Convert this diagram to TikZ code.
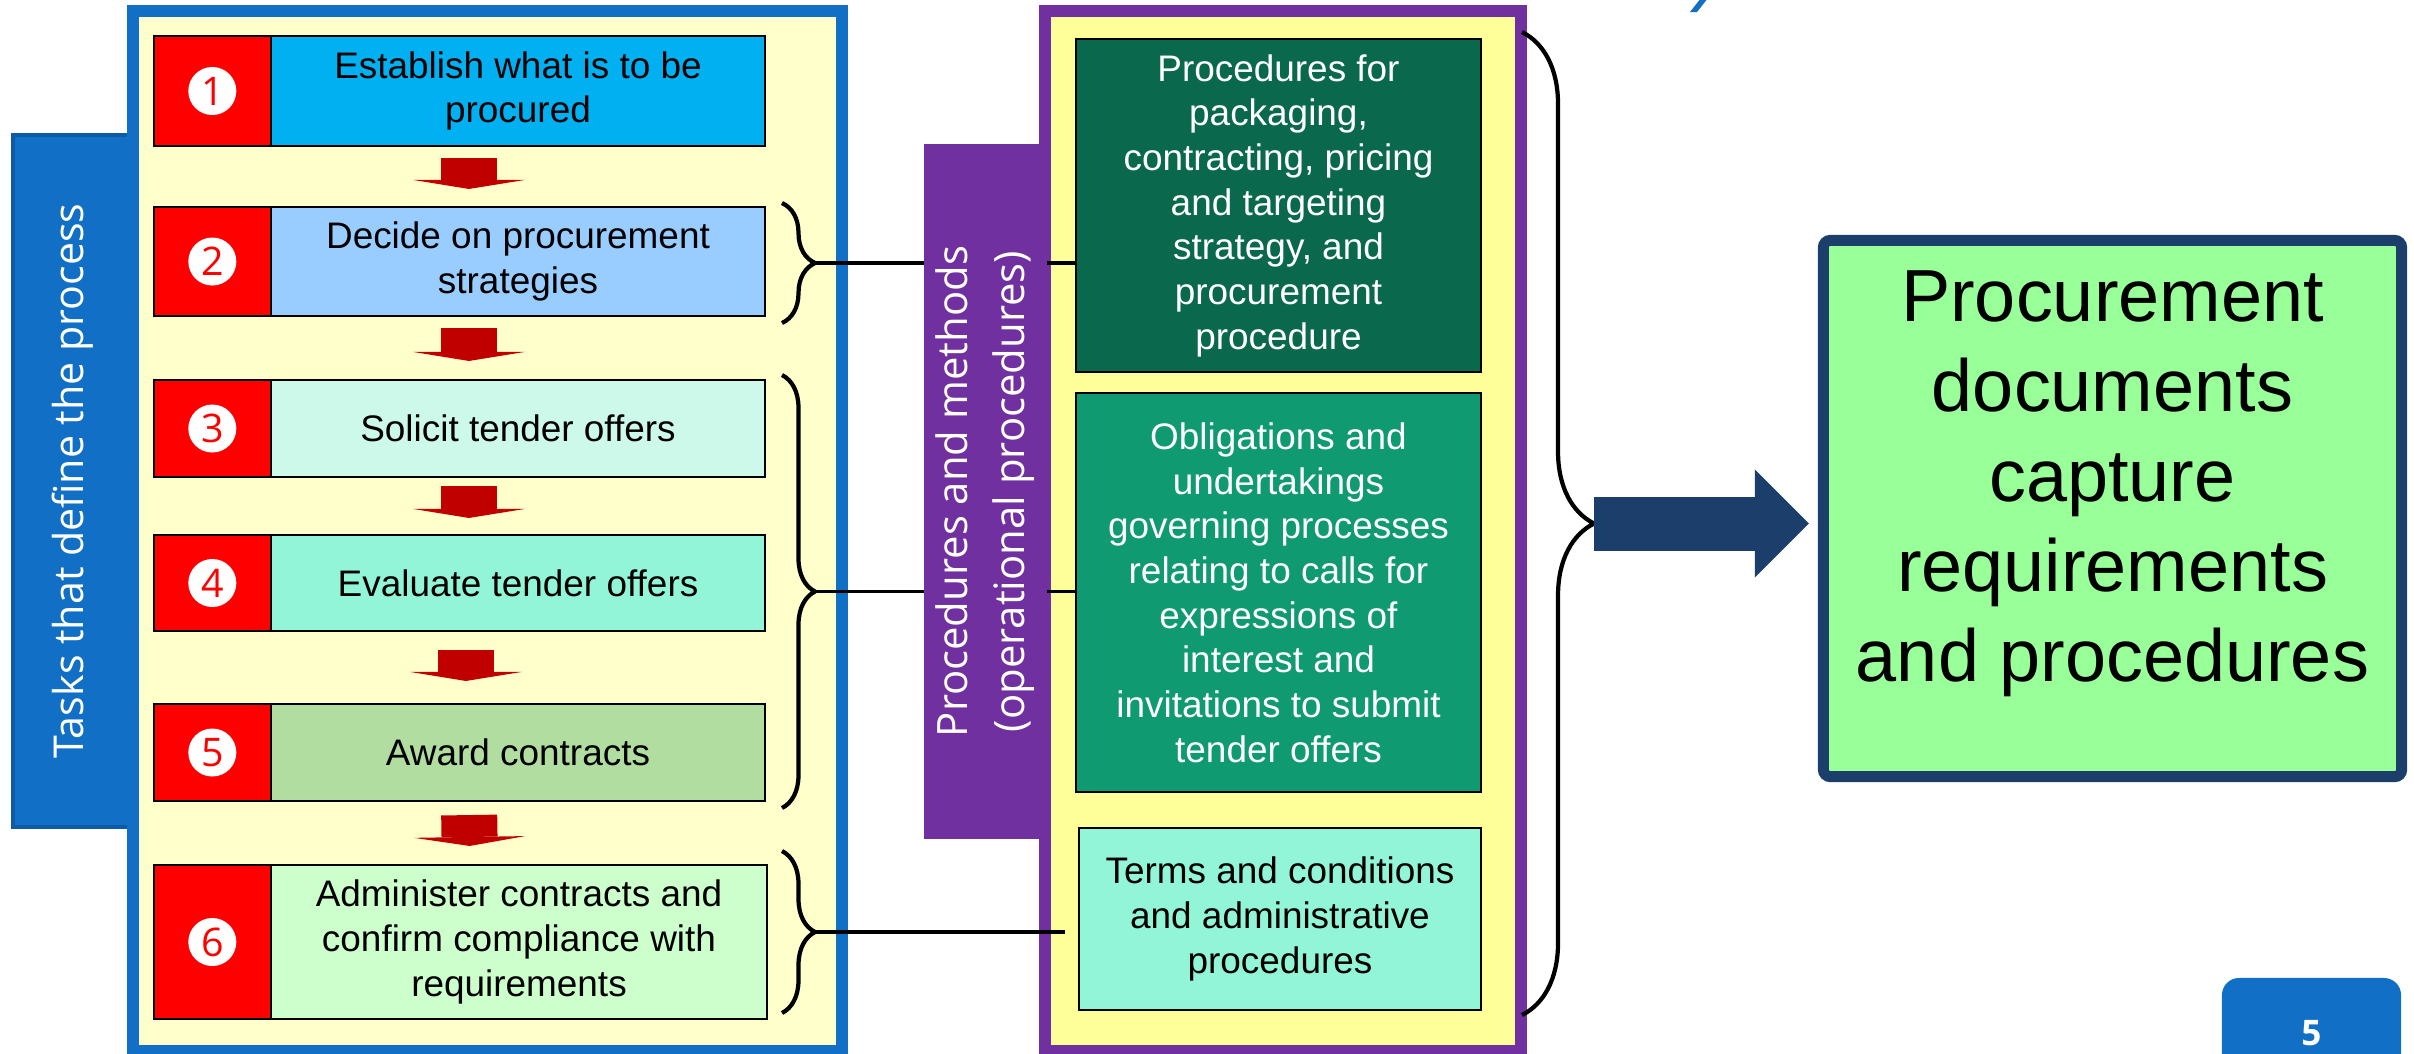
\documentclass[tikz,border=0pt]{standalone}
\usepackage{fontspec}
\setmainfont{Liberation Sans}
\newfontfamily\tabfont{Open Sans}
\usetikzlibrary{arrows.meta,decorations.pathreplacing}

\definecolor{frameblue}{RGB}{17,112,198}
\definecolor{tabedge}{RGB}{13,90,167}
\definecolor{paleyel}{RGB}{255,255,204}
\definecolor{procyel}{RGB}{255,255,153}
\definecolor{procpurple}{RGB}{112,48,160}
\definecolor{arrowred}{RGB}{192,0,0}
\definecolor{navy}{RGB}{27,63,106}
\definecolor{stepa}{RGB}{0,176,240}
\definecolor{stepb}{RGB}{153,204,255}
\definecolor{stepc}{RGB}{204,249,234}
\definecolor{stepd}{RGB}{146,245,215}
\definecolor{stepe}{RGB}{177,221,160}
\definecolor{stepf}{RGB}{204,255,204}
\definecolor{darkgr}{RGB}{10,105,76}
\definecolor{midgr}{RGB}{16,154,114}
\definecolor{docgreen}{RGB}{153,255,153}

\tikzset{
  stepbox/.style={draw, line width=0.7pt, outer sep=0pt, minimum width=4.94cm, align=center,
    inner sep=1pt, font=\fontsize{10.5}{12.7}\selectfont},
  numbox/.style={draw, line width=0.7pt, outer sep=0pt, fill=red, minimum width=1.17cm, anchor=east},
  numdot/.style={circle, fill=white, minimum size=0.48cm, inner sep=0pt, text=red,
    font=\tabfont\fontsize{11.2}{12}\selectfont},
  flowarrow/.style={arrowred, line width=0.56cm, -{Triangle[length=0.09cm, width=1.11cm, line width=0pt]}},
  procbox/.style={draw, line width=0.7pt, minimum width=4.05cm, align=center, inner sep=1pt,
    font=\fontsize{10.5}{12.7}\selectfont},
  sidetab/.style={rotate=90, minimum height=1.19cm, align=center, text=white,
    font=\tabfont\fontsize{11.9}{16.2}\selectfont},
  curly/.style={decorate, decoration={brace, amplitude=#1}, line width=1.2pt},
  curly/.default=0.33cm,
  link/.style={line width=0.9pt},
  bigarrow/.style={navy, line width=0.54cm, -{Triangle[length=0.54cm, width=1.08cm, line width=0pt]}},
  docbox/.style={draw=navy, line width=3.1pt, fill=docgreen, minimum width=5.78cm,
    minimum height=5.36cm, rounded corners=2pt},
  doctext/.style={align=center, inner sep=0pt, font=\fontsize{21}{25.6}\selectfont},
  pagebox/.style={fill=frameblue, rounded corners=0.17cm, minimum width=1.79cm, minimum height=1.10cm,
    text=white, font=\tabfont\bfseries\fontsize{10}{12}\selectfont}
}

\begin{document}
\begin{tikzpicture}[x=0.01cm, y=-0.01cm]
    \useasboundingbox (0,0) rectangle (2414,1053);

    \node[sidetab, fill=frameblue, draw=tabedge, line width=1pt, minimum width=6.92cm,
        minimum height=1.20cm, font=\tabfont\fontsize{11.7}{14}\selectfont]
        (tasks) at (73,481) {Tasks that define the process};
    \draw[frameblue, line width=3.4pt, fill=paleyel] (133,11) rectangle (842,1051);
    \draw[procpurple, line width=3.4pt, fill=procyel] (1045,11) rectangle (1521,1051);

    \node[stepbox, fill=stepa, minimum height=1.10cm] (s1) at (518,91) {Establish what is to be\\procured};
    \node[stepbox, fill=stepb, minimum height=1.09cm] (s2) at (518,261.5) {Decide on procurement\\strategies};
    \node[stepbox, fill=stepc, minimum height=0.97cm] (s3) at (518,428.5) {Solicit tender offers};
    \node[stepbox, fill=stepd, minimum height=0.96cm] (s4) at (518,583) {Evaluate tender offers};
    \node[stepbox, fill=stepe, minimum height=0.97cm] (s5) at (518,752.5) {Award contracts};
    \node[stepbox, fill=stepf, minimum height=1.54cm, minimum width=4.96cm] (s6) at (519,942)
        {Administer contracts and\\confirm compliance with\\requirements};

    \node[numbox, minimum height=1.10cm] (n1) at (s1.west) {};
    \node[numbox, minimum height=1.09cm] (n2) at (s2.west) {};
    \node[numbox, minimum height=0.97cm] (n3) at (s3.west) {};
    \node[numbox, minimum height=0.96cm] (n4) at (s4.west) {};
    \node[numbox, minimum height=0.97cm] (n5) at (s5.west) {};
    \node[numbox, minimum height=1.54cm] (n6) at (s6.west) {};
    \node[numdot] (d1) at (n1) {1};
    \node[numdot] (d2) at (n2) {2};
    \node[numdot] (d3) at (n3) {3};
    \node[numdot] (d4) at (n4) {4};
    \node[numdot] (d5) at (n5) {5};
    \node[numdot] (d6) at (n6) {6};

    \draw[flowarrow, shorten <=0.12cm, shorten >=0.18cm] ([xshift=-0.49cm]s1.south) -- ([xshift=-0.49cm]s2.north);
    \draw[flowarrow, shorten <=0.12cm, shorten >=0.19cm] ([xshift=-0.49cm]s2.south) -- ([xshift=-0.49cm]s3.north);
    \draw[flowarrow, shorten <=0.09cm, shorten >=0.17cm] ([xshift=-0.49cm]s3.south) -- ([xshift=-0.49cm]s4.north);
    \draw[flowarrow, shorten <=0.19cm, shorten >=0.23cm] ([xshift=-0.52cm]s4.south) -- ([xshift=-0.52cm]s5.north);
    \draw[flowarrow, shorten <=0.14cm, shorten >=0.19cm] ([xshift=-0.49cm]s5.south) -- ([xshift=-0.49cm]s6.north);

    \node[procbox, fill=darkgr, text=white, minimum height=3.33cm] (pk) at (1278.5,205.5)
        {Procedures for\\packaging,\\contracting, pricing\\and targeting\\strategy, and\\procurement\\procedure};
    \node[procbox, fill=midgr, text=white, minimum height=3.99cm] (ob) at (1278.5,592.5)
        {Obligations and\\undertakings\\governing processes\\relating to calls for\\expressions of\\interest and\\invitations to submit\\tender offers};
    \node[procbox, fill=stepd, minimum width=4.02cm, minimum height=1.82cm] (tc) at (1280,919)
        {Terms and conditions\\and administrative\\procedures};

    \draw[curly] (782,203) -- (782,323);
    \draw[curly] (782,375) -- (782,808);
    \draw[curly] (782,851) -- (782,1013);
    \coordinate (t2) at (815,263);
    \coordinate (t35) at (815,591.5);
    \coordinate (t6) at (815,932);
    \draw[link] (t2) -- (t2 -| pk.west);
    \draw[link] (t35) -- (t35 -| ob.west);
    \draw[link, shorten >=0.13cm] (t6) -- (t6 -| tc.west);

    \node[sidetab, fill=procpurple, minimum width=6.95cm] (methods) at (985.5,491.5)
        {Procedures and methods\\(operational procedures)};

    \draw[curly=0.72cm] (1522,32) -- (1522,1015);
    \coordinate (rtip) at (1594,523.5);
    \node[docbox] (doc) at (2112.5,508.5) {};
    \node[doctext] (doctxt) at (2112.5,484)
        {Procurement\\documents\\capture\\requirements\\and procedures};
    \draw[bigarrow, shorten >=0.09cm] (rtip) -- (rtip -| doc.west);

    \node[pagebox] (pg) at (2311.5,1033) {5};
    \fill[frameblue] (1690,12) -- (1697,12) -- (1708,-2) -- (1701,-2) -- cycle;
\end{tikzpicture}
\end{document}
